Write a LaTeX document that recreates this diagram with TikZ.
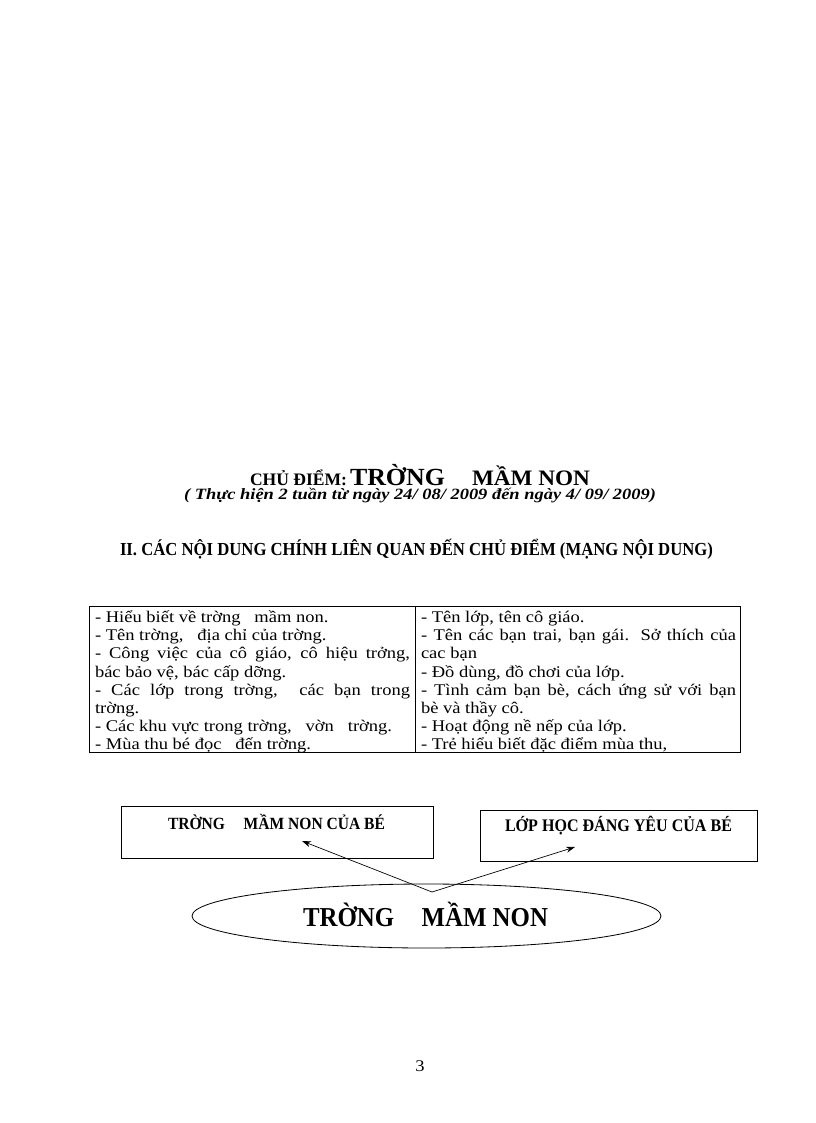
\documentclass[tikz,border=0pt]{standalone}
\usepackage{fontspec}
\setmainfont{Liberation Serif}
\usetikzlibrary{shapes.geometric,arrows.meta}
\newlength{\pxu}\setlength{\pxu}{0.729pt}
\newcommand{\fitw}[3]{\scalebox{1}[#1]{\resizebox{#2\pxu}{!}{#3}}}
\newcommand{\jl}[1]{\scalebox{1}[0.88]{\makebox[315\pxu][s]{#1}}}
\newcommand{\tl}[1]{\scalebox{1}[0.88]{#1}}
\tikzset{
  txt/.style={anchor=base west, inner sep=0pt, outer sep=0pt},
  tline/.style={txt, font=\fontsize{13.5}{13.5}\selectfont},
  frame/.style={draw, line width=0.65pt, inner sep=0pt, outer sep=0pt},
  arr/.style={line width=0.5pt, -{Stealth[length=6.5pt,width=4.4pt]}},
}
\begin{document}
\begin{tikzpicture}[x=\pxu,y=-\pxu]
\path[use as bounding box, fill=white] (0,0) rectangle (816,1123);

% title
\node[txt] (title) at (250,485) {\fitw{1.0}{97}{\bfseries CHỦ ĐIỂM:}};
\node[txt] (title2) at (350,485) {\fitw{0.95}{95}{\bfseries TRỜNG}};
\node[txt] (title3) at (472,485) {\fitw{0.95}{118}{\bfseries MẦM NON}};
\node[txt] (subtitle) at (184,499) {\fitw{0.85}{472}{\bfseries\itshape ( Thực hiện 2 tuần từ ngày 24/ 08/ 2009 đến ngày 4/ 09/ 2009)}};
\node[txt] (heading) at (120,555) {\fitw{1.1}{593}{\bfseries II. CÁC NỘI DUNG CHÍNH LIÊN QUAN ĐẾN CHỦ ĐIỂM (MẠNG NỘI DUNG)}};

% table
\begin{scope}
\clip (89,606) rectangle (740,752);
\node[tline] (l1) at (95,622) {\tl{- Hiểu biết về trờng~~ mầm non.}};
\node[tline] (l2) at (95,640) {\tl{- Tên trờng,~~ địa chỉ của trờng.}};
\node[tline] (l3) at (95,658) {\jl{- Công việc của cô giáo, cô hiệu trởng,}};
\node[tline] (l4) at (95,677) {\tl{bác bảo vệ, bác cấp dỡng.}};
\node[tline] (l5) at (95,695) {\jl{- Các lớp trong trờng,~ các bạn trong}};
\node[tline] (l6) at (95,713) {\tl{trờng.}};
\node[tline] (l7) at (95,731) {\tl{- Các khu vực trong trờng,~~ vờn~~ trờng.}};
\node[tline] (l8) at (95,749) {\tl{- Mùa thu bé đọc~~ đến trờng.}};
\node[tline] (r1) at (421,622) {\tl{- Tên lớp, tên cô giáo.}};
\node[tline] (r2) at (421,640) {\jl{- Tên các bạn trai, bạn gái. Sở thích của}};
\node[tline] (r3) at (421,658) {\tl{cac bạn}};
\node[tline] (r4) at (421,677) {\tl{- Đồ dùng, đồ chơi của lớp.}};
\node[tline] (r5) at (421,695) {\jl{- Tình cảm bạn bè, cách ứng sử với bạn}};
\node[tline] (r6) at (421,713) {\tl{bè và thầy cô.}};
\node[tline] (r7) at (421,731) {\tl{- Hoạt động nề nếp của lớp.}};
\node[tline] (r8) at (421,749) {\tl{- Trẻ hiểu biết đặc điểm mùa thu,}};
\end{scope}
\node[frame, anchor=north west, minimum width=651\pxu, minimum height=146\pxu] (table) at (89,606) {};
\draw[line width=0.65pt] (415,606) -- (415,752);

% boxes
\node[frame, anchor=north west, minimum width=312\pxu, minimum height=52\pxu] (box1) at (121,806) {};
\node[txt] (box1text) at (168,829) {\fitw{1.1}{217}{\bfseries TRỜNG\hspace{1.2em}MẦM NON CỦA BÉ}};
\node[frame, anchor=north west, minimum width=277\pxu, minimum height=51\pxu] (box2) at (480,810) {};
\node[txt] (box2text) at (505,831) {\fitw{1.1}{227}{\bfseries LỚP HỌC ĐÁNG YÊU CỦA BÉ}};

% ellipse
\node[draw, ellipse, line width=0.6pt, minimum width=469\pxu, minimum height=64\pxu, inner sep=0pt] (main) at (426.5,916) {};
\node[txt] (maintext) at (303,926) {\fitw{1.1}{245}{\bfseries TRỜNG\hspace{1.1em}MẦM NON}};

% arrows
\coordinate (v) at (432,892);
\coordinate (t1) at (302,841);
\coordinate (t2) at (575,847);
\draw[arr] (v) -- (t1);
\draw[arr] (v) -- (t2);

% page number
\node[anchor=base, inner sep=0pt, font=\fontsize{13.5}{13.5}\selectfont] (pagenum) at (420,1071) {\tl{3}};
\end{tikzpicture}
\end{document}
